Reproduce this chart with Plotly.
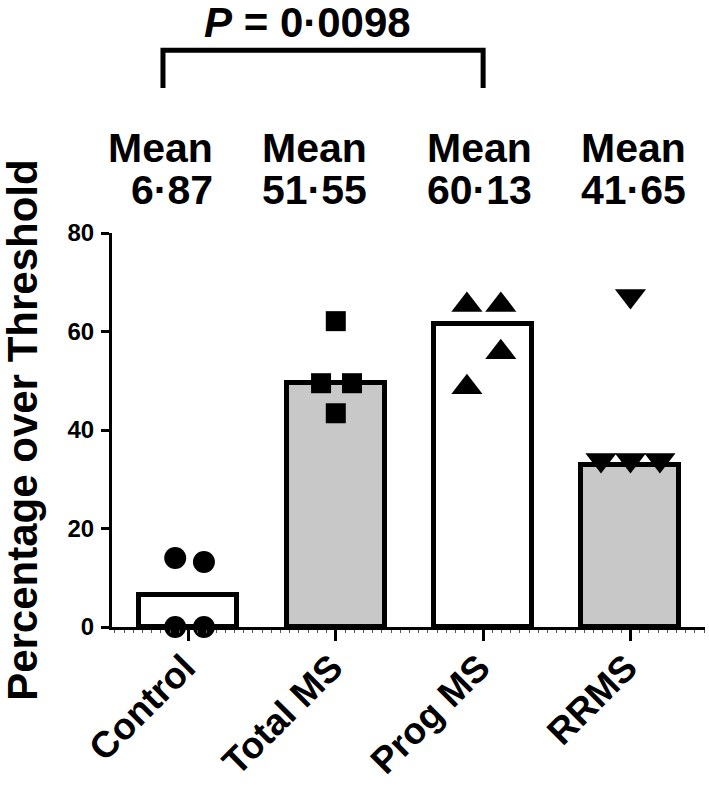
import plotly.graph_objects as go

# groups and bar heights as drawn
groups = ["Control", "Total MS", "Prog MS", "RRMS"]
bar_heights = [6.5, 49.6, 61.5, 32.9]
bar_colors = ["white", "#c8c8c8", "white", "#c8c8c8"]
mean_labels = ["6·87", "51·55", "60·13", "41·65"]

# individual points per group (value, horizontal jitter)
control_vals = [14.0, 13.2, 0, 0]
control_jit = [-0.09, 0.105, -0.09, 0.105]
total_vals = [62.1, 49.5, 49.5, 43.4]
total_jit = [0.0, -0.1, 0.11, 0.0]
prog_vals = [65.4, 65.4, 55.8, 48.7]
prog_jit = [-0.11, 0.12, 0.12, -0.11]
rrms_vals = [67.2, 33.9, 33.9, 33.9]
rrms_jit = [0.0, -0.2, 0.0, 0.2]

font_family = "Arial, Liberation Sans, sans-serif"

fig = go.Figure()

# bars
fig.add_trace(go.Bar(
    x=list(range(len(groups))), y=bar_heights, width=0.665,
    marker=dict(color=bar_colors, line=dict(color="black", width=5)),
    cliponaxis=False, showlegend=False, hoverinfo="skip"))

# scatter points on top of each bar
point_sets = [
    (0, control_vals, control_jit, "circle", 22),
    (1, total_vals, total_jit, "square", 20),
    (2, prog_vals, prog_jit, "triangle-up", 27),
    (3, rrms_vals, rrms_jit, "triangle-down", 27),
]
for pos, vals, jit, sym, size in point_sets:
    fig.add_trace(go.Scatter(
        x=[pos + j for j in jit], y=vals, mode="markers",
        marker=dict(symbol=sym, size=size, color="black", line=dict(width=0)),
        cliponaxis=False, showlegend=False))

# mean labels above the plot
mean_x = [0.18, 1.225, 2.345, 3.391]
for mx, lab in zip(mean_x, mean_labels):
    fig.add_annotation(x=mx, y=1.216, xref="x", yref="paper", text="<b>Mean</b>",
                       xanchor="right", yanchor="middle", showarrow=False,
                       font=dict(size=41, color="black", family=font_family))
    fig.add_annotation(x=mx, y=1.109, xref="x", yref="paper", text="<b>" + lab + "</b>",
                       xanchor="right", yanchor="middle", showarrow=False,
                       font=dict(size=41, color="black", family=font_family))

# significance bracket between Control and Prog MS
fig.add_shape(type="path", xref="x", yref="paper",
              path="M -0.173,1.368 L -0.173,1.464 L 2.0,1.464 L 2.0,1.368",
              line=dict(color="black", width=5))
fig.add_annotation(x=0.805, y=1.535, xref="x", yref="paper",
                   text="<b><i>P</i> = 0·0098</b>", showarrow=False,
                   xanchor="center", yanchor="middle",
                   font=dict(size=42, color="black", family=font_family))

# y axis title
fig.add_annotation(x=-0.152, y=0.5, xref="paper", yref="paper",
                   text="<b>Percentage over Threshold</b>", textangle=-90,
                   showarrow=False, xanchor="center", yanchor="middle",
                   font=dict(size=42, color="black", family=font_family))

fig.update_xaxes(
    range=[-0.519, 3.506], tickvals=list(range(len(groups))), ticktext=groups,
    tickangle=-45, ticks="outside", ticklen=11, tickwidth=3, tickcolor="black",
    ticklabelstandoff=-10, ticklabelshift=-4, automargin=False,
    showline=True, linewidth=3, linecolor="black", showgrid=False, zeroline=False,
    tickfont=dict(size=37, color="black", family=font_family, weight="bold"),
    minor=dict(dtick=0.0625, tick0=0, ticks="outside", ticklen=3, tickwidth=1,
               tickcolor="#555555", showgrid=False))
fig.update_yaxes(
    range=[0, 80], tickvals=[0, 20, 40, 60, 80], ticks="outside", ticklen=8,
    tickwidth=3, tickcolor="black", showline=True, linewidth=3, linecolor="black",
    ticklabelstandoff=2, automargin=False,
    showgrid=False, zeroline=False,
    tickfont=dict(size=24, color="black", family=font_family, weight="bold"))

fig.update_layout(
    width=709, height=797,
    margin=dict(l=112, r=4, t=233, b=170, autoexpand=False),
    plot_bgcolor="white", paper_bgcolor="white",
    font=dict(family=font_family, color="black"),
    bargap=0)

# drop the default page margin so the figure sits at the window corner
fig.write_html("out.html", config={"displayModeBar": False},
               post_script="document.body.style.margin='0';")
